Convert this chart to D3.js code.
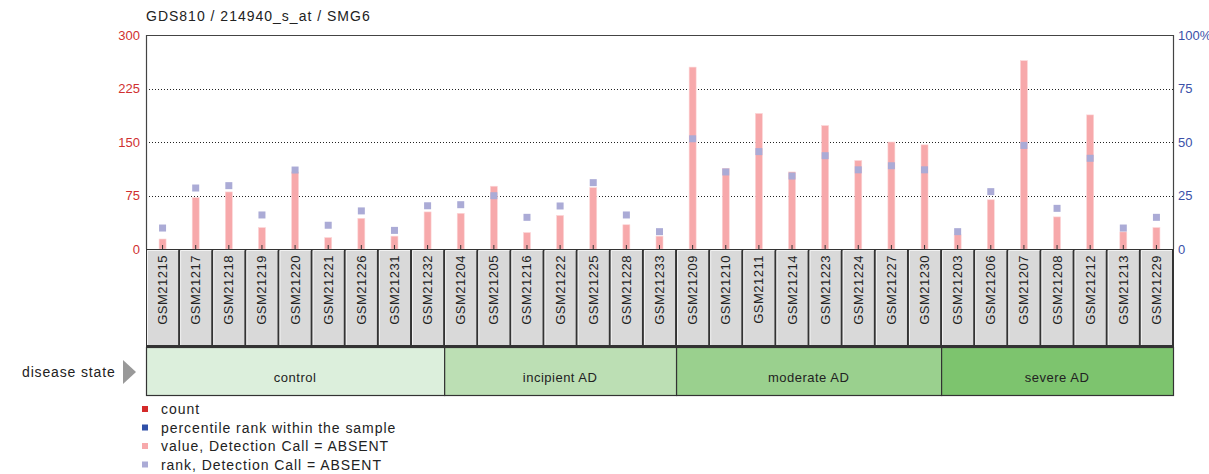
<!DOCTYPE html>
<html>
<head>
<meta charset="utf-8">
<script src="https://cdn.jsdelivr.net/npm/d3@7"></script>
<style>
  body { margin: 0; background: #fff; }
  svg { display: block; font-family: "Liberation Sans", Arial, sans-serif; }
</style>
</head>
<body>
<svg id="chart" width="1209" height="474"></svg>
<script>
const title = "GDS810 / 214940_s_at / SMG6";
const samples = ["GSM21215","GSM21217","GSM21218","GSM21219","GSM21220","GSM21221","GSM21226","GSM21231","GSM21232",
  "GSM21204","GSM21205","GSM21216","GSM21222","GSM21225","GSM21228","GSM21233",
  "GSM21209","GSM21210","GSM21211","GSM21214","GSM21223","GSM21224","GSM21227","GSM21230",
  "GSM21203","GSM21206","GSM21207","GSM21208","GSM21212","GSM21213","GSM21229"];
const counts = [14, 72, 80, 30, 108, 16, 43, 18, 52,
  50, 88, 23, 47, 86, 34, 18,
  255, 113, 190, 108, 173, 124, 150, 146,
  20, 69, 264, 45, 188, 24, 30];
const ranks = [9.8, 28.5, 29.6, 15.9, 36.9, 11.1, 17.8, 8.7, 20.2,
  20.7, 24.9, 14.8, 20.1, 31.0, 15.9, 8.1,
  51.5, 36.0, 45.5, 34.1, 43.6, 37.0, 38.9, 37.0,
  8.1, 26.8, 48.4, 19.0, 42.4, 9.8, 14.8];
const groups = ["control", "incipient AD", "moderate AD", "severe AD"];
const groupSizes = [9, 7, 8, 7];
const groupColors = ["#dcefdc", "#bcdfb4", "#9ad08e", "#7dc46e"];
const leftTicks = [0, 75, 150, 225, 300];
const rightTicks = [0, 25, 50, 75, 100];
const legendLabels = ["count", "percentile rank within the sample", "value, Detection Call = ABSENT", "rank, Detection Call = ABSENT"];
const legendColors = ["#d42a2a", "#3050a8", "#f7a9ab", "#ababd6"];

const L = 146, R = 1173, T = 35, B = 249;
const svg = d3.select("#chart");

const x = d3.scaleBand().domain(samples).range([L, R]).padding(0);
const yL = d3.scaleLinear().domain([0, 300]).range([B, T]);
const yR = d3.scaleLinear().domain([0, 100]).range([B, T]);
const bw = x.bandwidth();

// title
svg.append("text").attr("x", L).attr("y", 21).attr("font-size", 14).attr("letter-spacing", 1)
  .attr("fill", "#222").text(title);

// grid lines
svg.append("g").selectAll("line").data(leftTicks.filter(d => d > 0 && d < 300)).join("line")
  .attr("x1", L).attr("x2", R).attr("y1", d => Math.round(yL(d)) + 0.5).attr("y2", d => Math.round(yL(d)) + 0.5)
  .attr("stroke", "#222").attr("stroke-width", 1).attr("stroke-dasharray", "1,2");

// bars
svg.append("g").selectAll("rect").data(samples).join("rect")
  .attr("x", d => x(d) + bw / 2 - 3.5).attr("width", 7)
  .attr("y", (d, i) => yL(counts[i])).attr("height", (d, i) => B - yL(counts[i]))
  .attr("fill", "#f7a9ab").attr("stroke", "#fcd6d7").attr("stroke-width", 0.6);

// rank squares
svg.append("g").selectAll("rect").data(samples).join("rect")
  .attr("x", d => x(d) + bw / 2 - 3.5).attr("width", 7)
  .attr("y", (d, i) => yR(ranks[i]) - 3.5).attr("height", 7)
  .attr("fill", "#ababd6");

// frame: left, top, right
svg.append("path")
  .attr("d", `M${L + 0.5},${B}V${T + 0.5}H${R + 0.5}V${B}`)
  .attr("fill", "none").attr("stroke", "#444").attr("stroke-width", 1.2);

// x ticks
svg.append("g").selectAll("line").data(samples).join("line")
  .attr("x1", d => x(d) + bw / 2).attr("x2", d => x(d) + bw / 2)
  .attr("y1", B - 4).attr("y2", B).attr("stroke", "#333");

// left axis
const axL = svg.append("g").attr("transform", `translate(${L},0)`)
  .call(d3.axisLeft(yL).tickValues(leftTicks).tickSize(0).tickPadding(6));
axL.select(".domain").remove();
axL.selectAll("text").attr("fill", "#d03030").attr("font-size", 13).attr("font-family", "Liberation Sans, Arial, sans-serif");

// right axis
const axR = svg.append("g").attr("transform", `translate(${R},0)`)
  .call(d3.axisRight(yR).tickValues(rightTicks).tickSize(0).tickPadding(5)
    .tickFormat(d => d === 100 ? "100%" : d));
axR.select(".domain").remove();
axR.selectAll("text").attr("fill", "#3a50a8").attr("font-size", 13).attr("font-family", "Liberation Sans, Arial, sans-serif");

// sample label boxes
svg.append("rect").attr("x", L).attr("y", B).attr("width", R - L + 1).attr("height", 98).attr("fill", "#333");
const sg = svg.append("g").selectAll("g").data(samples).join("g");
sg.append("rect")
  .attr("x", d => x(d) + 1).attr("y", B + 1).attr("width", bw - 2).attr("height", 95)
  .attr("fill", "#d9d9d9");
sg.append("path")
  .attr("d", d => `M${x(d) + 1.5},${B + 96}V${B + 1.5}H${x(d) + bw - 1}`)
  .attr("fill", "none").attr("stroke", "#f2f2f2").attr("stroke-width", 1);
sg.append("text")
  .attr("transform", d => `translate(${x(d) + bw / 2 + 4.5},${B + 6}) rotate(-90)`)
  .attr("text-anchor", "end").attr("font-size", 13).attr("letter-spacing", 0.5).attr("fill", "#222")
  .text(d => d);

// disease state groups
const gy = 347, gh = 48;
let start = 0;
const groupData = groups.map((g, i) => {
  const s = start; start += groupSizes[i];
  return { name: g, x0: x(samples[s]), x1: x(samples[start - 1]) + bw, color: groupColors[i] };
});
const gg = svg.append("g").selectAll("g").data(groupData).join("g");
gg.append("rect").attr("x", d => d.x0 + 0.5).attr("y", gy + 0.5).attr("width", d => d.x1 - d.x0).attr("height", gh)
  .attr("fill", d => d.color).attr("stroke", "#333").attr("stroke-width", 1.2);
gg.append("text").attr("x", d => (d.x0 + d.x1) / 2).attr("y", gy + 35).attr("text-anchor", "middle")
  .attr("font-size", 13).attr("letter-spacing", 0.5).attr("fill", "#222").text(d => d.name);

svg.append("text").attr("x", 22).attr("y", 377).attr("font-size", 14).attr("letter-spacing", 0.85)
  .attr("fill", "#222").text("disease state");
svg.append("path").attr("d", "M123,360L136,372L123,384Z").attr("fill", "#999");

// legend
const lg = svg.append("g").selectAll("g").data(legendLabels).join("g")
  .attr("transform", (d, i) => `translate(142,${409 + i * 18.5})`);
lg.append("rect").attr("x", 0).attr("y", -3).attr("width", 6).attr("height", 6).attr("fill", (d, i) => legendColors[i]);
lg.append("text").attr("x", 19).attr("y", 5).attr("font-size", 14).attr("letter-spacing", 0.95)
  .attr("fill", "#222").text(d => d);
</script>
</body>
</html>
